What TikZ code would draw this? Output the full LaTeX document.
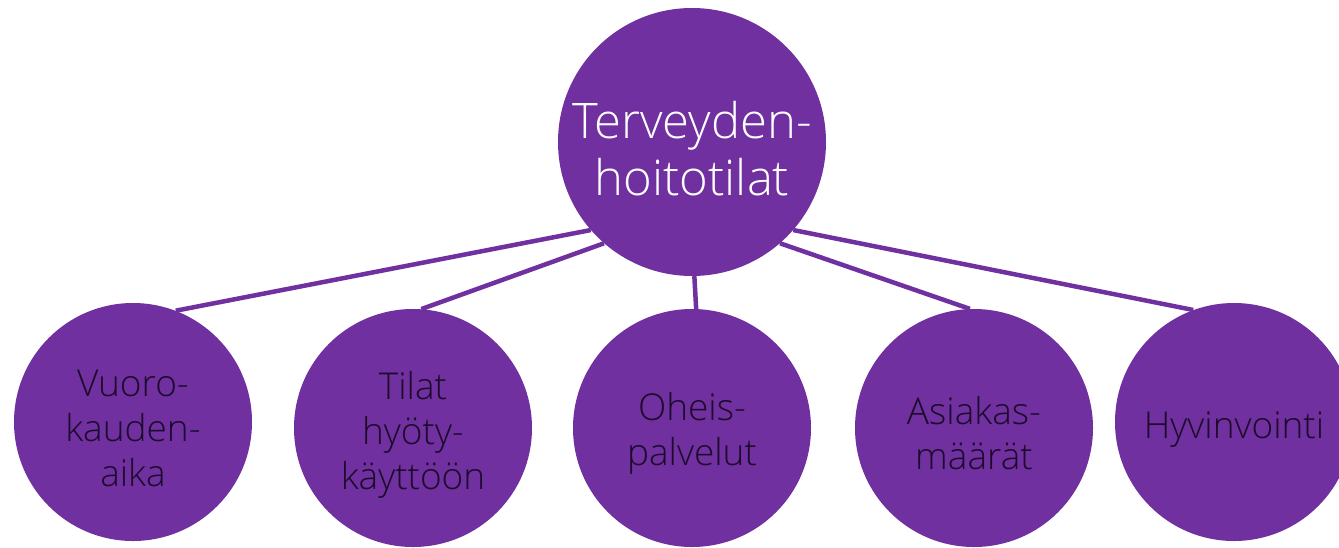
\documentclass[tikz,border=0pt]{standalone}
\usepackage{fontspec}
\setmainfont{Open Sans Light}
\definecolor{hubpurple}{HTML}{7030A0}
\definecolor{darkink}{HTML}{1C0A2A}
\tikzset{
  hub/.style={circle, fill=hubpurple, draw=none, minimum size=268pt, inner sep=0pt},
  leaf/.style={circle, fill=hubpurple, draw=none, minimum size=238pt, inner sep=0pt},
  hubtext/.style={align=center, inner sep=0pt, text=white,
    font=\fontsize{49}{57}\selectfont},
  leaftext/.style={align=center, inner sep=0pt, text=darkink,
    font=\fontsize{37}{45}\selectfont},
  link/.style={draw=hubpurple, line width=4.5pt}
}
\begin{document}
\begin{tikzpicture}[x=1pt, y=-1pt]
  \useasboundingbox (0,0) rectangle (1339,547);
  \clip (0,0) rectangle (1339,547);
  \fill[white] (0,0) rectangle (1339,547);

  % root and the five topics below it
  \node[hub]  (root) at (692,142) {};
  \node[leaf] (c1)   at (133,422) {};
  \node[leaf] (c2)   at (413,428) {};
  \node[leaf] (c3)   at (692,428) {};
  \node[leaf] (c4)   at (974,428) {};
  \node[leaf] (c5)   at (1234,422) {};

  % connectors from the root down to each topic
  \draw[link] (root.221.1) -- (c1.69.3);
  \draw[link] (root.229.3) -- (c2.86.6);
  \draw[link] (root.271)   -- (c3.88.6);
  \draw[link] (root.311.7) -- (c4.92.9);
  \draw[link] (root.319)   -- (c5.110.7);

  % captions inside the circles
  \node[hubtext]  (troot) at ([yshift=-7pt]root.center) {Terveyden-\\hoitotilat};
  \node[leaftext] (t1)    at ([yshift=-6pt]c1.center) {Vuoro-\\kauden-\\aika};
  \node[leaftext] (t2)    at ([yshift=-7pt]c2.center) {Tilat\\hyöty-\\käyttöön};
  \node[leaftext] (t3)    at ([yshift=-5pt]c3.center) {Oheis-\\palvelut};
  \node[leaftext] (t4)    at ([yshift=-5pt]c4.center) {Asiakas-\\määrät};
  \node[leaftext] (t5)    at ([yshift=-8pt]c5.center) {Hyvinvointi};
\end{tikzpicture}
\end{document}
